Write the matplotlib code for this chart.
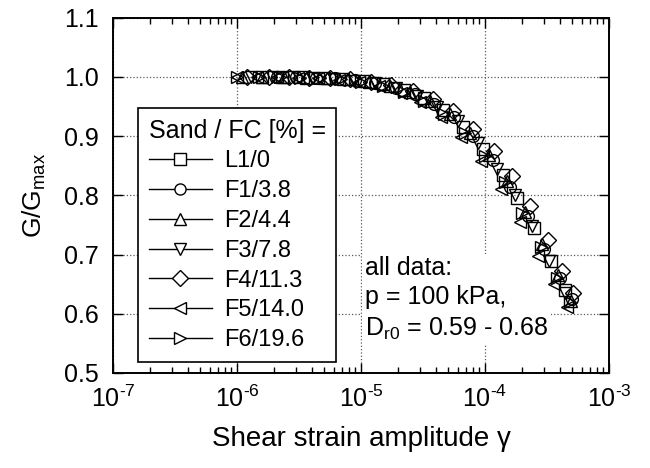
import math
import matplotlib
matplotlib.use('Agg')
import matplotlib.pyplot as plt
from matplotlib.lines import Line2D
from matplotlib.ticker import FixedLocator, LogLocator, FuncFormatter, NullFormatter

plt.rcParams['font.family'] = ['Liberation Sans', 'DejaVu Sans']
plt.rcParams['mathtext.fontset'] = 'custom'
plt.rcParams['mathtext.rm'] = 'Liberation Sans'
plt.rcParams['mathtext.it'] = 'Liberation Sans:italic'

# Datos
etiquetas = ['L1/0', 'F1/3.8', 'F2/4.4', 'F3/7.8', 'F4/11.3', 'F5/14.0', 'F6/19.6']
marcadores = ['s', 'o', '^', 'v', 'D', '<', '>']

gamma_L1 = [1.6e-6, 2.3e-6, 3.4e-6, 5e-6, 7.2e-6, 1.05e-5, 1.5e-5, 2.2e-5, 3.2e-5, 4.6e-5,
            6.7e-5, 9.7e-5, 1.4e-4, 1.8e-4, 2.5e-4, 3.4e-4, 4.4e-4]
G_L1 = [1.000, 1.000, 1.000, 0.999, 0.997, 0.993, 0.988, 0.978, 0.964, 0.945,
        0.915, 0.878, 0.835, 0.795, 0.745, 0.690, 0.640]

gamma_F1 = [2.1e-6, 3.0e-6, 4.3e-6, 6.2e-6, 9e-6, 1.3e-5, 1.9e-5, 2.7e-5, 3.9e-5, 5.6e-5,
            8e-5, 1.15e-4, 1.6e-4, 2.2e-4, 3.0e-4, 4.0e-4, 5.0e-4]
G_F1 = [1.000, 1.000, 0.999, 0.998, 0.995, 0.990, 0.982, 0.972, 0.955, 0.932,
        0.900, 0.860, 0.815, 0.765, 0.710, 0.660, 0.625]

gamma_F2 = [1.1e-6, 1.6e-6, 2.4e-6, 3.6e-6, 5.3e-6, 7.8e-6, 1.15e-5, 1.7e-5, 2.5e-5, 3.6e-5,
            5.2e-5, 7.5e-5, 1.08e-4, 1.5e-4, 2.1e-4, 2.9e-4, 3.9e-4, 4.9e-4]
G_F2 = [1.000, 1.000, 1.000, 0.999, 0.998, 0.996, 0.992, 0.985, 0.975, 0.960,
        0.938, 0.905, 0.868, 0.825, 0.772, 0.718, 0.665, 0.622]

gamma_F3 = [1.3e-6, 1.9e-6, 2.8e-6, 4.1e-6, 6e-6, 8.8e-6, 1.3e-5, 1.9e-5, 2.8e-5, 4.1e-5,
            6e-5, 8.7e-5, 1.25e-4, 1.75e-4, 2.4e-4, 3.3e-4, 4.4e-4]
G_F3 = [1.000, 1.000, 1.000, 0.999, 0.997, 0.994, 0.989, 0.981, 0.968, 0.950,
        0.925, 0.888, 0.845, 0.800, 0.748, 0.690, 0.635]

gamma_F4 = [1.2e-6, 1.8e-6, 2.6e-6, 3.8e-6, 5.6e-6, 8.2e-6, 1.2e-5, 1.75e-5, 2.6e-5, 3.8e-5,
            5.5e-5, 8e-5, 1.17e-4, 1.65e-4, 2.3e-4, 3.2e-4, 4.2e-4, 5.1e-4]
G_F4 = [1.000, 1.000, 1.000, 0.999, 0.998, 0.996, 0.992, 0.986, 0.976, 0.962,
        0.942, 0.912, 0.875, 0.832, 0.782, 0.725, 0.672, 0.635]

gamma_F5 = [1.0e-6, 1.45e-6, 2.1e-6, 3.1e-6, 4.5e-6, 6.6e-6, 9.7e-6, 1.4e-5, 2.1e-5, 3.0e-5,
            4.4e-5, 6.4e-5, 9.3e-5, 1.35e-4, 1.9e-4, 2.65e-4, 3.6e-4, 4.6e-4]
G_F5 = [1.000, 1.000, 1.000, 0.999, 0.998, 0.995, 0.991, 0.985, 0.973, 0.957,
        0.933, 0.898, 0.858, 0.810, 0.755, 0.698, 0.650, 0.612]

gamma_F6 = [1.0e-6, 1.5e-6, 2.2e-6, 3.2e-6, 4.7e-6, 6.9e-6, 1.0e-5, 1.5e-5, 2.2e-5, 3.2e-5,
            4.7e-5, 6.9e-5, 1.0e-4, 1.45e-4, 2.0e-4, 2.8e-4, 3.8e-4, 4.8e-4]
G_F6 = [1.000, 1.000, 1.000, 0.999, 0.998, 0.996, 0.992, 0.985, 0.975, 0.960,
        0.938, 0.905, 0.866, 0.822, 0.770, 0.712, 0.660, 0.620]

gammas = [gamma_L1, gamma_F1, gamma_F2, gamma_F3, gamma_F4, gamma_F5, gamma_F6]
Gs = [G_L1, G_F1, G_F2, G_F3, G_F4, G_F5, G_F6]

fig = plt.figure(figsize=(6.5, 4.68), dpi=100)
ax = fig.add_axes([0.174, 0.203, 0.763, 0.759])

for g, G, m in zip(gammas, Gs, marcadores):
    ax.plot(g, G, linestyle='none', marker=m, markersize=8.5, markerfacecolor='none',
            markeredgecolor='black', markeredgewidth=1.0, zorder=3)

ax.set_xscale('log')
ax.set_xlim(1e-7, 1e-3)
ax.set_ylim(0.5, 1.1)
ax.yaxis.set_major_locator(FixedLocator([0.5, 0.6, 0.7, 0.8, 0.9, 1.0, 1.1]))
ax.yaxis.set_major_formatter(FuncFormatter(lambda v, p: '%.1f' % v))
ax.xaxis.set_major_locator(LogLocator(base=10, numticks=10))
ax.xaxis.set_minor_locator(LogLocator(base=10, subs=range(2, 10), numticks=20))
ax.xaxis.set_minor_formatter(NullFormatter())
ax.xaxis.set_major_formatter(FuncFormatter(
    lambda v, p: r'$\mathregular{10^{\text{-}%d}}$' % round(-math.log10(v))))

ax.tick_params(which='both', direction='in', top=True, right=True, labelsize=18, width=1.0)
ax.tick_params(which='major', length=7)
ax.tick_params(which='minor', length=4)
ax.tick_params(axis='y', pad=10)
ax.tick_params(axis='x', pad=9)
for s in ax.spines.values():
    s.set_linewidth(1.4)

ax.grid(True, which='major', linestyle=':', color='0.35', linewidth=0.9)
ax.set_axisbelow(True)

ax.set_xlabel('Shear strain amplitude \u03b3', fontsize=20, labelpad=10)
ax.set_ylabel('G/G$_{\\mathregular{max}}$', fontsize=19, labelpad=12)

ax.text(0.508, 0.33, 'all data:\np = 100 kPa,\nD$_{\\mathregular{r0}}$ = 0.59 - 0.68',
        transform=ax.transAxes, fontsize=18, va='top', ha='left', linespacing=1.3,
        bbox=dict(facecolor='white', edgecolor='none', pad=2), zorder=2)

handles = [Line2D([0], [0], color='black', linewidth=1.0, marker=m, markersize=8,
                  markerfacecolor='white', markeredgecolor='black', markeredgewidth=1.0)
           for m in marcadores]
leg = ax.legend(handles, etiquetas, title='Sand / FC [%] =', loc='upper left',
                bbox_to_anchor=(0.05, 0.746), borderaxespad=0, fontsize=17, title_fontsize=18,
                handlelength=2.7, handletextpad=0.5, labelspacing=0.33, fancybox=False,
                framealpha=1, edgecolor='black', borderpad=0.45)
leg.get_frame().set_linewidth(1.2)
leg._legend_box.align = 'left'
leg.set_zorder(5)

fig.savefig('out.png', dpi=100)
